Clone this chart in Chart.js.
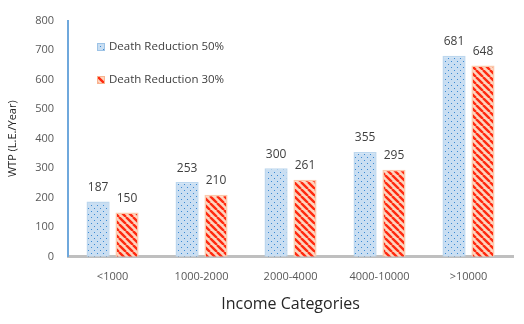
<!DOCTYPE html>
<html><head><meta charset="utf-8">
<script src="https://cdn.jsdelivr.net/npm/chart.js@4/dist/chart.umd.min.js"></script>
<style>html,body{margin:0;padding:0;background:#fff}#wrap{width:524px;height:324px}</style>
</head><body><div id="wrap"><canvas id="c" width="524" height="324"></canvas></div>
<script>
const categories = ['<1000','1000-2000','2000-4000','4000-10000','>10000'];
const reduction50 = [187,253,300,355,681];
const reduction30 = [150,210,261,295,648];
const seriesNames = ['Death Reduction 50%','Death Reduction 30%'];
const yTicks = [0,100,200,300,400,500,600,700,800];

function dotPattern(){
  const c=document.createElement('canvas');c.width=6;c.height=6;
  const g=c.getContext('2d');
  g.fillStyle='#c9def2';g.fillRect(0,0,6,6);
  g.fillStyle='#3a8ad4';g.fillRect(1,1,1,1);g.fillRect(4,4,1,1);
  return g.createPattern(c,'repeat');
}
function stripePattern(){
  const s=7;const c=document.createElement('canvas');c.width=s;c.height=s;
  const g=c.getContext('2d');
  g.fillStyle='#fdd5bf';g.fillRect(0,0,s,s);
  g.strokeStyle='#ff2a10';g.lineWidth=2.4;
  g.beginPath();
  for(let k=-1;k<=1;k++){g.moveTo(k*s,0);g.lineTo(k*s+s,s);}
  g.stroke();
  return g.createPattern(c,'repeat');
}
const pBlue=dotPattern(), pRed=stripePattern();
const FONT='"Open Sans", Lato, sans-serif';

const labelPlugin={id:'lbl',afterDatasetsDraw(chart){
  const ctx=chart.ctx;ctx.save();
  ctx.font='12px '+FONT;ctx.fillStyle='#404040';ctx.textAlign='center';ctx.textBaseline='bottom';
  chart.data.datasets.forEach((ds,i)=>{
    chart.getDatasetMeta(i).data.forEach((el,j)=>{
      ctx.fillText(String(ds.data[j]),el.x,el.y-8);
    });
  });
  const items=[{fill:pBlue,border:'#9dc3e6',text:seriesNames[0],y:47},{fill:pRed,border:'#f8b48f',text:seriesNames[1],y:80}];
  ctx.textAlign='left';ctx.textBaseline='middle';ctx.font='11.5px '+FONT;
  items.forEach(it=>{
    ctx.fillStyle=it.fill;ctx.fillRect(97,it.y-4,8,8);
    ctx.strokeStyle=it.border;ctx.lineWidth=1;ctx.strokeRect(97.5,it.y-3.5,7,7);
    ctx.fillStyle='#404040';ctx.fillText(it.text,109,it.y);
  });
  ctx.restore();
}};

new Chart(document.getElementById('c'),{
  type:'bar',
  data:{labels:categories,datasets:[
    {label:seriesNames[0],data:reduction50,backgroundColor:pBlue,borderColor:'#bdd7ee',borderWidth:1.5,categoryPercentage:0.65,barPercentage:0.8},
    {label:seriesNames[1],data:reduction30,backgroundColor:pRed,borderColor:'#fcc9ac',borderWidth:1.5,categoryPercentage:0.65,barPercentage:0.8}
  ]},
  options:{
    responsive:false,animation:false,
    layout:{padding:{left:6,right:11,top:7,bottom:0}},
    plugins:{legend:{display:false},tooltip:{enabled:false}},
    scales:{
      x:{grid:{display:false,drawTicks:false},border:{color:'#bfbfbf',width:3},
        ticks:{color:'#595959',font:{family:FONT,size:11},padding:13},
        title:{display:true,text:'Income Categories',color:'#262626',font:{family:FONT,size:16,lineHeight:1},padding:{top:0,bottom:12}}},
      y:{min:0,max:800,afterBuildTicks(ax){ax.ticks=yTicks.map(v=>({value:v}));},
        grid:{display:false,drawTicks:false},border:{color:'#6fa8dc',width:2},
        ticks:{color:'#595959',font:{family:FONT,size:11},padding:14},
        title:{display:true,text:'WTP (L.E./Year)',color:'#262626',font:{family:FONT,size:11},padding:{top:0,bottom:2}}}
    }
  },
  plugins:[labelPlugin]
});
</script></body></html>
